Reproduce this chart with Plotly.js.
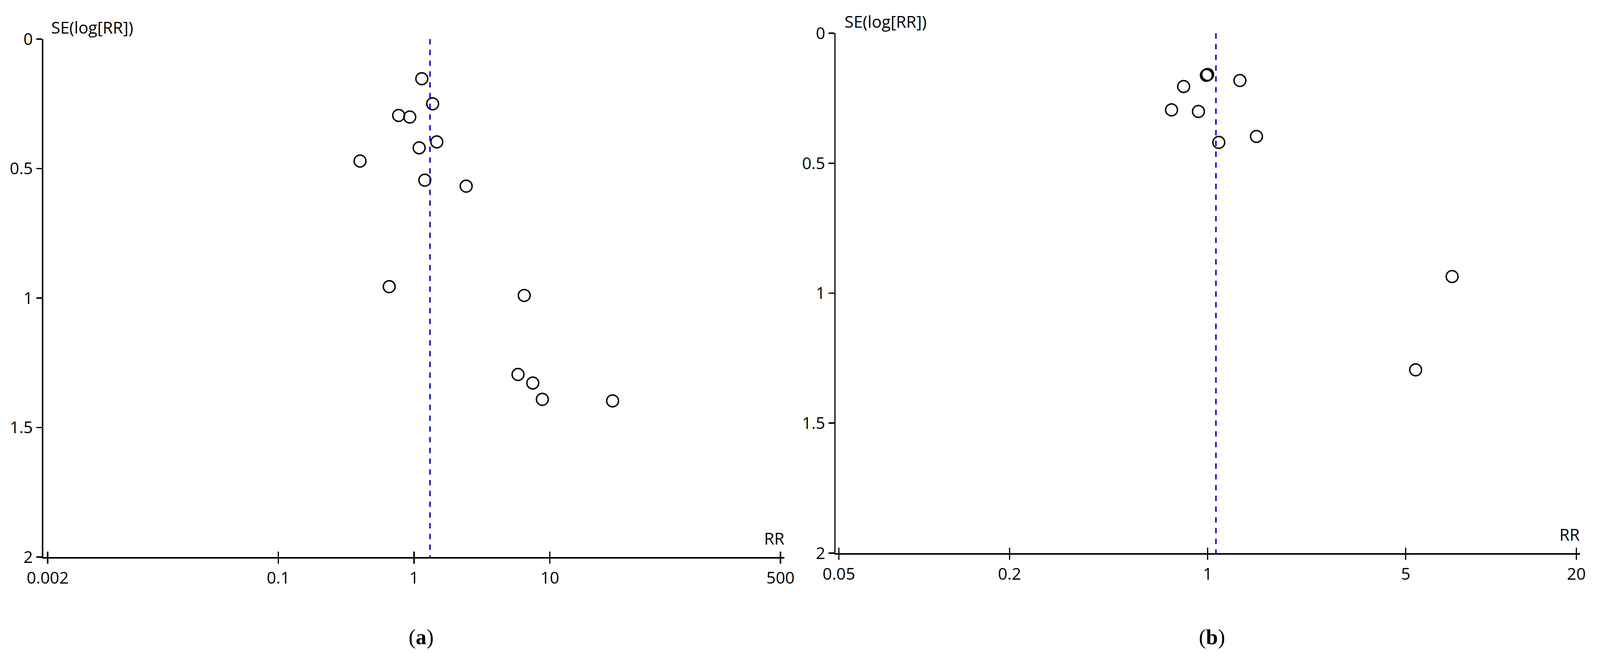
<!DOCTYPE html>
<html>
<head>
<meta charset="utf-8">
<script src="https://cdn.plot.ly/plotly-3.0.1.min.js"></script>
<style>
  html, body { margin: 0; padding: 0; background: #fff; overflow: hidden; }
  #chart { width: 100vw; height: 100vh; }
</style>
</head>
<body>
<div id="chart"></div>
<script>
// funnel plot (a): risk ratios and their standard errors
const rrA = [1.14, 1.37, 0.77, 0.93, 1.47, 1.09, 0.40, 1.20, 2.42, 0.656, 6.48, 5.83, 7.49, 8.81, 29.0];
const seA = [0.153, 0.250, 0.295, 0.301, 0.397, 0.420, 0.471, 0.545, 0.568, 0.956, 0.990, 1.295, 1.328, 1.391, 1.397];
const pooledA = 1.31;

// funnel plot (b)
const rrB = [0.99, 1.0, 1.30, 0.823, 0.746, 0.928, 1.487, 1.095, 7.29, 5.42];
const seB = [0.162, 0.159, 0.182, 0.205, 0.295, 0.301, 0.397, 0.420, 0.936, 1.295];
const pooledB = 1.07;

const ticksA = [0.002, 0.1, 1, 10, 500];
const ticksB = [0.05, 0.2, 1, 5, 20];
const seTicks = [0, 0.5, 1, 1.5, 2];
const seRange = [2, 0];

// positions below are measured on a 4463 x 1687 picture and turned into fractions
const REF_W = 4463, REF_H = 1687;
const VW = window.innerWidth || REF_W;
const VH = window.innerHeight || REF_H;
const k = Math.min(VW / REF_W, VH / REF_H);
const s = v => v * k;
const px = x => x / REF_W;
const py = y => (REF_H - y) / REF_H;

const FONT = 'Open Sans, sans-serif';
const axisFont = { family: FONT, size: s(46), color: '#000' };
const capFont = { family: 'Liberation Serif, Times New Roman, serif', size: s(60), color: '#000' };

function pointsTrace(rr, se, xa, ya) {
    return {
        x: rr, y: se,
        xaxis: xa, yaxis: ya,
        type: 'scatter',
        mode: 'markers',
        marker: { symbol: 'circle-open', size: s(33), color: '#000', line: { width: s(4), color: '#000' } },
        hoverinfo: 'x+y',
        showlegend: false
    };
}

function pooledTrace(value, xa, ya) {
    return {
        x: [value, value], y: [seRange[1], seRange[0]],
        xaxis: xa, yaxis: ya,
        type: 'scatter',
        mode: 'lines',
        line: { color: '#0000c0', width: s(4), dash: `${s(15)}px,${s(15)}px` },
        hoverinfo: 'none',
        showlegend: false
    };
}

// log x-axis; the range reaches a few pixels past the first and last ticks
function xAxis(ticks, left, right, firstTick, lastTick) {
    const decades = Math.log10(ticks[ticks.length - 1]) - Math.log10(ticks[0]);
    const perDecade = (lastTick - firstTick) / decades;
    const lo = Math.log10(ticks[0]) - (firstTick - left) / perDecade;
    const hi = Math.log10(ticks[ticks.length - 1]) + (right - lastTick) / perDecade;
    return {
        type: 'log',
        domain: [px(left), px(right)],
        range: [lo, hi],
        tickmode: 'array',
        tickvals: ticks,
        ticktext: ticks.map(String),
        ticks: 'outside', ticklen: s(15), tickwidth: s(4), tickcolor: '#000',
        showline: true, linewidth: s(4), linecolor: '#000',
        showgrid: false, zeroline: false,
        tickfont: axisFont
    };
}

// second copy of an x-axis that only draws the inner half of each tick
function innerTicks(base, over, anchor) {
    return Object.assign({}, base, {
        overlaying: over, anchor: anchor,
        ticks: 'inside', showticklabels: false, showline: false
    });
}

function yAxis(top, bottom, anchor) {
    return {
        domain: [py(bottom), py(top)],
        range: seRange,
        anchor: anchor,
        tickmode: 'array',
        tickvals: seTicks,
        ticktext: seTicks.map(String),
        ticks: 'outside', ticklen: s(16), tickwidth: s(4), tickcolor: '#000',
        showline: true, linewidth: s(4), linecolor: '#000',
        showgrid: false, zeroline: false,
        tickfont: axisFont
    };
}

function label(text, x, y, xanchor, yanchor, font) {
    return {
        text: text, xref: 'paper', yref: 'paper',
        x: px(x), y: py(y), xanchor: xanchor, yanchor: yanchor,
        showarrow: false, font: font
    };
}

const xa = Object.assign(xAxis(ticksA, 121, 2188, 133, 2177), { anchor: 'y' });
const xb = Object.assign(xAxis(ticksB, 2331, 4407, 2340, 4397), { anchor: 'y2' });

const layout = {
    width: VW, height: VH,
    margin: { l: 0, r: 0, t: 0, b: 0 },
    paper_bgcolor: '#fff',
    plot_bgcolor: 'rgba(0,0,0,0)',
    showlegend: false,
    xaxis: xa,
    yaxis: yAxis(100, 1426, 'x'),
    xaxis2: xb,
    yaxis2: yAxis(85, 1416, 'x2'),
    xaxis3: innerTicks(xa, 'x', 'y'),
    xaxis4: innerTicks(xb, 'x2', 'y2'),
    annotations: [
        label('SE(log[RR])', 141, 100, 'left', 'bottom', axisFont),
        label('RR', 2190, 1408, 'right', 'bottom', axisFont),
        label('SE(log[RR])', 2353, 85, 'left', 'bottom', axisFont),
        label('RR', 4409, 1398, 'right', 'bottom', axisFont),
        label('(<b>a</b>)', 1175, 1630, 'center', 'middle', capFont),
        label('(<b>b</b>)', 3380, 1630, 'center', 'middle', capFont)
    ]
};

const data = [
    pooledTrace(pooledA, 'x3', 'y'),
    pointsTrace(rrA, seA, 'x', 'y'),
    pooledTrace(pooledB, 'x4', 'y2'),
    pointsTrace(rrB, seB, 'x2', 'y2')
];

const config = { displayModeBar: false, responsive: false, staticPlot: true };

Plotly.newPlot('chart', data, layout, config);
</script>
</body>
</html>
